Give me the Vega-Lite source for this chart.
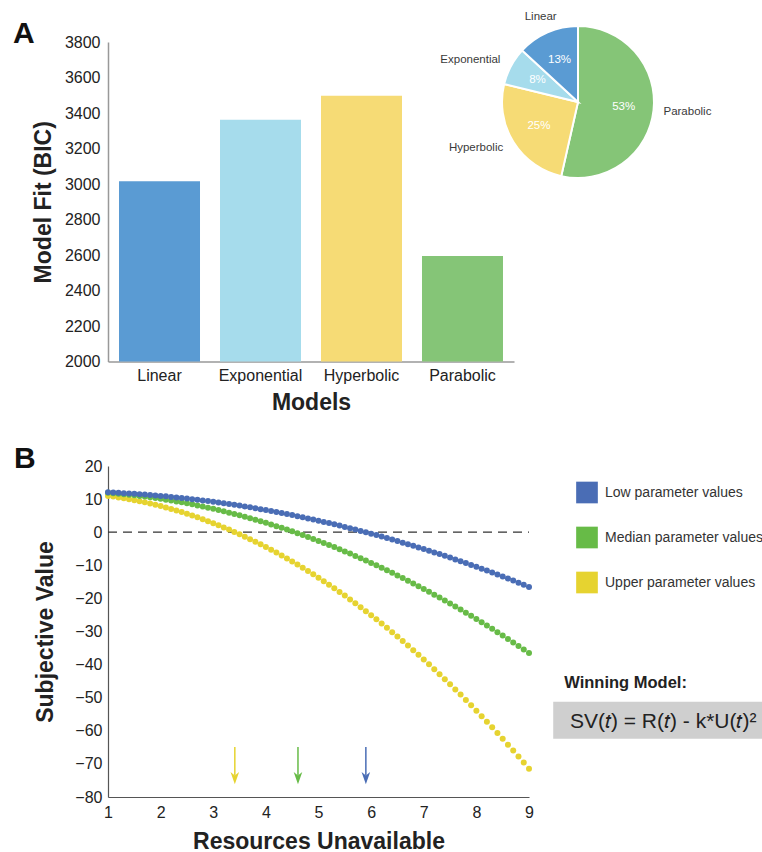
{
  "$schema": "https://vega.github.io/schema/vega-lite/v6.json",
  "background": "white",
  "padding": {"left": 13, "top": 10, "right": 0, "bottom": 0},
  "config": {
    "font": "Liberation Sans",
    "view": {"stroke": null},
    "axis": {"grid": false, "ticks": false, "labelFont": "Liberation Sans", "titleFont": "Liberation Sans", "labelColor": "#222", "titleColor": "#222", "labelFlush": false, "labelOverlap": false},
    "title": {"font": "Liberation Sans", "color": "#111"},
    "text": {"font": "Liberation Sans"}
  },
  "datasets": {
    "fits": [
      {"model": "Linear", "bic": 3015},
      {"model": "Exponential", "bic": 3362},
      {"model": "Hyperbolic", "bic": 3497},
      {"model": "Parabolic", "bic": 2595}
    ],
    "shares": [
      {"model": "Parabolic", "share": 0.53, "rank": 1},
      {"model": "Hyperbolic", "share": 0.25, "rank": 2},
      {"model": "Exponential", "share": 0.08, "rank": 3},
      {"model": "Linear", "share": 0.13, "rank": 4}
    ],
    "arrows": [
      {"s": "Upper", "t": 3.41},
      {"s": "Median", "t": 4.61},
      {"s": "Low", "t": 5.9}
    ],
    "curves": [
      {"s":"Upper","t":1,"v":10.97},{"s":"Upper","t":1.1,"v":10.75},{"s":"Upper","t":1.2,"v":10.52},{"s":"Upper","t":1.3,"v":10.26},{"s":"Upper","t":1.4,"v":9.98},{"s":"Upper","t":1.5,"v":9.68},{"s":"Upper","t":1.6,"v":9.36},{"s":"Upper","t":1.7,"v":9.02},{"s":"Upper","t":1.8,"v":8.66},{"s":"Upper","t":1.9,"v":8.28},
      {"s":"Upper","t":2,"v":7.88},{"s":"Upper","t":2.1,"v":7.46},{"s":"Upper","t":2.2,"v":7.01},{"s":"Upper","t":2.3,"v":6.55},{"s":"Upper","t":2.4,"v":6.07},{"s":"Upper","t":2.5,"v":5.56},{"s":"Upper","t":2.6,"v":5.04},{"s":"Upper","t":2.7,"v":4.49},{"s":"Upper","t":2.8,"v":3.92},{"s":"Upper","t":2.9,"v":3.34},
      {"s":"Upper","t":3,"v":2.73},{"s":"Upper","t":3.1,"v":2.1},{"s":"Upper","t":3.2,"v":1.45},{"s":"Upper","t":3.3,"v":0.78},{"s":"Upper","t":3.4,"v":0.09},{"s":"Upper","t":3.5,"v":-0.62},{"s":"Upper","t":3.6,"v":-1.35},{"s":"Upper","t":3.7,"v":-2.1},{"s":"Upper","t":3.8,"v":-2.87},{"s":"Upper","t":3.9,"v":-3.67},
      {"s":"Upper","t":4,"v":-4.48},{"s":"Upper","t":4.1,"v":-5.31},{"s":"Upper","t":4.2,"v":-6.17},{"s":"Upper","t":4.3,"v":-7.04},{"s":"Upper","t":4.4,"v":-7.94},{"s":"Upper","t":4.5,"v":-8.86},{"s":"Upper","t":4.6,"v":-9.79},{"s":"Upper","t":4.7,"v":-10.75},{"s":"Upper","t":4.8,"v":-11.73},{"s":"Upper","t":4.9,"v":-12.73},
      {"s":"Upper","t":5,"v":-13.75},{"s":"Upper","t":5.1,"v":-14.79},{"s":"Upper","t":5.2,"v":-15.85},{"s":"Upper","t":5.3,"v":-16.93},{"s":"Upper","t":5.4,"v":-18.03},{"s":"Upper","t":5.5,"v":-19.16},{"s":"Upper","t":5.6,"v":-20.3},{"s":"Upper","t":5.7,"v":-21.46},{"s":"Upper","t":5.8,"v":-22.65},{"s":"Upper","t":5.9,"v":-23.85},
      {"s":"Upper","t":6,"v":-25.08},{"s":"Upper","t":6.1,"v":-26.33},{"s":"Upper","t":6.2,"v":-27.59},{"s":"Upper","t":6.3,"v":-28.88},{"s":"Upper","t":6.4,"v":-30.19},{"s":"Upper","t":6.5,"v":-31.52},{"s":"Upper","t":6.6,"v":-32.87},{"s":"Upper","t":6.7,"v":-34.24},{"s":"Upper","t":6.8,"v":-35.63},{"s":"Upper","t":6.9,"v":-37.04},
      {"s":"Upper","t":7,"v":-38.47},{"s":"Upper","t":7.1,"v":-39.92},{"s":"Upper","t":7.2,"v":-41.4},{"s":"Upper","t":7.3,"v":-42.89},{"s":"Upper","t":7.4,"v":-44.4},{"s":"Upper","t":7.5,"v":-45.94},{"s":"Upper","t":7.6,"v":-47.49},{"s":"Upper","t":7.7,"v":-49.07},{"s":"Upper","t":7.8,"v":-50.67},{"s":"Upper","t":7.9,"v":-52.28},
      {"s":"Upper","t":8,"v":-53.92},{"s":"Upper","t":8.1,"v":-55.58},{"s":"Upper","t":8.2,"v":-57.26},{"s":"Upper","t":8.3,"v":-58.96},{"s":"Upper","t":8.4,"v":-60.68},{"s":"Upper","t":8.5,"v":-62.42},{"s":"Upper","t":8.6,"v":-64.18},{"s":"Upper","t":8.7,"v":-65.96},{"s":"Upper","t":8.8,"v":-67.76},{"s":"Upper","t":8.9,"v":-69.59},
      {"s":"Upper","t":9,"v":-71.43},
      {"s":"Median","t":1,"v":11.9},{"s":"Median","t":1.1,"v":11.77},{"s":"Median","t":1.2,"v":11.63},{"s":"Median","t":1.3,"v":11.48},{"s":"Median","t":1.4,"v":11.31},{"s":"Median","t":1.5,"v":11.14},{"s":"Median","t":1.6,"v":10.95},{"s":"Median","t":1.7,"v":10.75},{"s":"Median","t":1.8,"v":10.54},{"s":"Median","t":1.9,"v":10.32},
      {"s":"Median","t":2,"v":10.08},{"s":"Median","t":2.1,"v":9.83},{"s":"Median","t":2.2,"v":9.57},{"s":"Median","t":2.3,"v":9.3},{"s":"Median","t":2.4,"v":9.02},{"s":"Median","t":2.5,"v":8.72},{"s":"Median","t":2.6,"v":8.41},{"s":"Median","t":2.7,"v":8.09},{"s":"Median","t":2.8,"v":7.76},{"s":"Median","t":2.9,"v":7.41},
      {"s":"Median","t":3,"v":7.06},{"s":"Median","t":3.1,"v":6.69},{"s":"Median","t":3.2,"v":6.3},{"s":"Median","t":3.3,"v":5.91},{"s":"Median","t":3.4,"v":5.51},{"s":"Median","t":3.5,"v":5.09},{"s":"Median","t":3.6,"v":4.66},{"s":"Median","t":3.7,"v":4.22},{"s":"Median","t":3.8,"v":3.76},{"s":"Median","t":3.9,"v":3.3},
      {"s":"Median","t":4,"v":2.82},{"s":"Median","t":4.1,"v":2.33},{"s":"Median","t":4.2,"v":1.83},{"s":"Median","t":4.3,"v":1.31},{"s":"Median","t":4.4,"v":0.79},{"s":"Median","t":4.5,"v":0.25},{"s":"Median","t":4.6,"v":-0.3},{"s":"Median","t":4.7,"v":-0.86},{"s":"Median","t":4.8,"v":-1.44},{"s":"Median","t":4.9,"v":-2.03},
      {"s":"Median","t":5,"v":-2.63},{"s":"Median","t":5.1,"v":-3.24},{"s":"Median","t":5.2,"v":-3.86},{"s":"Median","t":5.3,"v":-4.49},{"s":"Median","t":5.4,"v":-5.14},{"s":"Median","t":5.5,"v":-5.8},{"s":"Median","t":5.6,"v":-6.47},{"s":"Median","t":5.7,"v":-7.16},{"s":"Median","t":5.8,"v":-7.85},{"s":"Median","t":5.9,"v":-8.56},
      {"s":"Median","t":6,"v":-9.28},{"s":"Median","t":6.1,"v":-10.01},{"s":"Median","t":6.2,"v":-10.76},{"s":"Median","t":6.3,"v":-11.51},{"s":"Median","t":6.4,"v":-12.28},{"s":"Median","t":6.5,"v":-13.06},{"s":"Median","t":6.6,"v":-13.85},{"s":"Median","t":6.7,"v":-14.66},{"s":"Median","t":6.8,"v":-15.48},{"s":"Median","t":6.9,"v":-16.3},
      {"s":"Median","t":7,"v":-17.15},{"s":"Median","t":7.1,"v":-18},{"s":"Median","t":7.2,"v":-18.86},{"s":"Median","t":7.3,"v":-19.74},{"s":"Median","t":7.4,"v":-20.63},{"s":"Median","t":7.5,"v":-21.53},{"s":"Median","t":7.6,"v":-22.44},{"s":"Median","t":7.7,"v":-23.37},{"s":"Median","t":7.8,"v":-24.31},{"s":"Median","t":7.9,"v":-25.26},
      {"s":"Median","t":8,"v":-26.22},{"s":"Median","t":8.1,"v":-27.19},{"s":"Median","t":8.2,"v":-28.18},{"s":"Median","t":8.3,"v":-29.18},{"s":"Median","t":8.4,"v":-30.19},{"s":"Median","t":8.5,"v":-31.21},{"s":"Median","t":8.6,"v":-32.25},{"s":"Median","t":8.7,"v":-33.29},{"s":"Median","t":8.8,"v":-34.35},{"s":"Median","t":8.9,"v":-35.42},
      {"s":"Median","t":9,"v":-36.51},
      {"s":"Low","t":1,"v":12.04},{"s":"Low","t":1.1,"v":11.97},{"s":"Low","t":1.2,"v":11.89},{"s":"Low","t":1.3,"v":11.8},{"s":"Low","t":1.4,"v":11.7},{"s":"Low","t":1.5,"v":11.6},{"s":"Low","t":1.6,"v":11.49},{"s":"Low","t":1.7,"v":11.37},{"s":"Low","t":1.8,"v":11.24},{"s":"Low","t":1.9,"v":11.11},
      {"s":"Low","t":2,"v":10.97},{"s":"Low","t":2.1,"v":10.83},{"s":"Low","t":2.2,"v":10.67},{"s":"Low","t":2.3,"v":10.51},{"s":"Low","t":2.4,"v":10.34},{"s":"Low","t":2.5,"v":10.17},{"s":"Low","t":2.6,"v":9.99},{"s":"Low","t":2.7,"v":9.8},{"s":"Low","t":2.8,"v":9.6},{"s":"Low","t":2.9,"v":9.4},
      {"s":"Low","t":3,"v":9.19},{"s":"Low","t":3.1,"v":8.97},{"s":"Low","t":3.2,"v":8.74},{"s":"Low","t":3.3,"v":8.51},{"s":"Low","t":3.4,"v":8.27},{"s":"Low","t":3.5,"v":8.03},{"s":"Low","t":3.6,"v":7.77},{"s":"Low","t":3.7,"v":7.51},{"s":"Low","t":3.8,"v":7.24},{"s":"Low","t":3.9,"v":6.97},
      {"s":"Low","t":4,"v":6.69},{"s":"Low","t":4.1,"v":6.4},{"s":"Low","t":4.2,"v":6.1},{"s":"Low","t":4.3,"v":5.8},{"s":"Low","t":4.4,"v":5.49},{"s":"Low","t":4.5,"v":5.17},{"s":"Low","t":4.6,"v":4.85},{"s":"Low","t":4.7,"v":4.51},{"s":"Low","t":4.8,"v":4.17},{"s":"Low","t":4.9,"v":3.83},
      {"s":"Low","t":5,"v":3.48},{"s":"Low","t":5.1,"v":3.11},{"s":"Low","t":5.2,"v":2.75},{"s":"Low","t":5.3,"v":2.37},{"s":"Low","t":5.4,"v":1.99},{"s":"Low","t":5.5,"v":1.6},{"s":"Low","t":5.6,"v":1.2},{"s":"Low","t":5.7,"v":0.8},{"s":"Low","t":5.8,"v":0.39},{"s":"Low","t":5.9,"v":-0.03},
      {"s":"Low","t":6,"v":-0.45},{"s":"Low","t":6.1,"v":-0.88},{"s":"Low","t":6.2,"v":-1.32},{"s":"Low","t":6.3,"v":-1.77},{"s":"Low","t":6.4,"v":-2.22},{"s":"Low","t":6.5,"v":-2.68},{"s":"Low","t":6.6,"v":-3.15},{"s":"Low","t":6.7,"v":-3.63},{"s":"Low","t":6.8,"v":-4.11},{"s":"Low","t":6.9,"v":-4.6},
      {"s":"Low","t":7,"v":-5.09},{"s":"Low","t":7.1,"v":-5.6},{"s":"Low","t":7.2,"v":-6.11},{"s":"Low","t":7.3,"v":-6.62},{"s":"Low","t":7.4,"v":-7.15},{"s":"Low","t":7.5,"v":-7.68},{"s":"Low","t":7.6,"v":-8.22},{"s":"Low","t":7.7,"v":-8.77},{"s":"Low","t":7.8,"v":-9.32},{"s":"Low","t":7.9,"v":-9.88},
      {"s":"Low","t":8,"v":-10.45},{"s":"Low","t":8.1,"v":-11.02},{"s":"Low","t":8.2,"v":-11.6},{"s":"Low","t":8.3,"v":-12.19},{"s":"Low","t":8.4,"v":-12.79},{"s":"Low","t":8.5,"v":-13.39},{"s":"Low","t":8.6,"v":-14},{"s":"Low","t":8.7,"v":-14.62},{"s":"Low","t":8.8,"v":-15.25},{"s":"Low","t":8.9,"v":-15.88},
      {"s":"Low","t":9,"v":-16.52}
    ]
  },
  "columns": 2,
  "bounds": "flush",
  "align": "all",
  "spacing": {"row": 93, "column": 0},
  "resolve": {"scale": {"color": "independent"}, "legend": {"color": "independent"}},
  "concat": [
    {
      "width": 406,
      "height": 319.5,
      "title": {"text": "A", "anchor": "start", "frame": "group", "dx": -95, "dy": 15, "offset": 0, "fontSize": 30, "fontWeight": "bold"},
      "data": {"name": "fits"},
      "mark": {"type": "bar"},
      "encoding": {
        "x": {
          "field": "model", "type": "nominal", "sort": null,
          "scale": {"paddingInner": 0.198, "paddingOuter": 0.109},
          "axis": {"title": "Models", "labelAngle": 0, "labelFontSize": 16, "labelPadding": 6, "titleFontSize": 23, "titleFontWeight": "bold", "titlePadding": 8, "domainColor": "#999", "domainWidth": 1.5}
        },
        "y": {
          "field": "bic", "type": "quantitative",
          "scale": {"domain": [2000, 3800], "nice": false, "zero": false},
          "axis": {"title": "Model Fit (BIC)", "values": [2000, 2200, 2400, 2600, 2800, 3000, 3200, 3400, 3600, 3800], "format": "d", "labelOverlap": false, "labelFontSize": 16, "labelPadding": 8, "titleFontSize": 23, "titleFontWeight": "bold", "titlePadding": 9, "domainColor": "#999", "domainWidth": 1.5}
        },
        "y2": {"datum": 2000},
        "color": {
          "field": "model", "type": "nominal",
          "scale": {"domain": ["Linear", "Exponential", "Hyperbolic", "Parabolic"], "range": ["#5a9bd3", "#a6dcec", "#f6db75", "#85c577"]},
          "legend": null
        }
      }
    },
    {
      "width": 98,
      "height": 120,
      "data": {"name": "shares"},
      "encoding": {
        "theta": {"field": "share", "type": "quantitative", "stack": true},
        "order": {"field": "rank", "type": "quantitative"}
      },
      "layer": [
        {
          "mark": {"type": "arc", "outerRadius": 76, "stroke": "white", "strokeWidth": 2},
          "encoding": {
            "color": {
              "field": "model", "type": "nominal",
              "scale": {"domain": ["Linear", "Exponential", "Hyperbolic", "Parabolic"], "range": ["#5a9bd3", "#a6dcec", "#f6db75", "#85c577"]},
              "legend": null
            }
          }
        },
        {
          "mark": {"type": "text", "radius": 46, "fontSize": 11.5, "baseline": "middle"},
          "encoding": {
            "text": {"field": "share", "type": "quantitative", "format": ".0%"},
            "color": {"value": "white"}
          }
        },
        {
          "mark": {"type": "text", "radius": 86, "align": "left", "fontSize": 11.5, "baseline": "middle"},
          "encoding": {
            "text": {"condition": {"test": "datum.model === 'Parabolic'", "field": "model", "type": "nominal"}, "value": ""},
            "color": {"value": "#3a3a3a"}
          }
        },
        {
          "mark": {"type": "text", "radius": 88, "align": "right", "fontSize": 11.5, "baseline": "middle"},
          "encoding": {
            "text": {"condition": {"test": "datum.model === 'Hyperbolic' || datum.model === 'Exponential'", "field": "model", "type": "nominal"}, "value": ""},
            "color": {"value": "#3a3a3a"}
          }
        },
        {
          "mark": {"type": "text", "radius": 93, "align": "center", "fontSize": 11.5, "baseline": "middle"},
          "encoding": {
            "text": {"condition": {"test": "datum.model === 'Linear'", "field": "model", "type": "nominal"}, "value": ""},
            "color": {"value": "#3a3a3a"}
          }
        }
      ]
    },
    {
      "width": 421,
      "height": 331,
      "title": {"text": "B", "anchor": "start", "frame": "group", "dx": -94, "dy": 16, "offset": 0, "fontSize": 30, "fontWeight": "bold"},
      "encoding": {
        "y": {
          "type": "quantitative",
          "scale": {"domain": [-80, 20], "nice": false, "zero": false},
          "axis": {"title": "Subjective Value", "values": [-80, -70, -60, -50, -40, -30, -20, -10, 0, 10, 20], "labelOverlap": false, "labelFontSize": 16, "labelPadding": 6, "titleFontSize": 23, "titleFontWeight": "bold", "titlePadding": 17, "domainColor": "#555", "domainWidth": 1.2}
        }
      },
      "layer": [
        {
          "data": {"values": [{}]},
          "mark": {"type": "rule", "strokeDash": [9, 6], "color": "#333", "strokeWidth": 1.3},
          "encoding": {
            "x": {"datum": 1, "type": "quantitative"},
            "x2": {"datum": 9},
            "y": {"datum": 0, "type": "quantitative"}
          }
        },
        {
          "data": {"name": "curves"},
          "mark": {"type": "circle", "size": 36, "opacity": 1},
          "encoding": {
            "x": {
              "field": "t", "type": "quantitative",
              "scale": {"domain": [1, 9], "nice": false, "zero": false},
              "axis": {"title": "Resources Unavailable", "values": [1, 2, 3, 4, 5, 6, 7, 8, 9], "labelFontSize": 16, "labelPadding": 7, "titleFontSize": 23, "titleFontWeight": "bold", "titlePadding": 10, "domainColor": "#555", "domainWidth": 1.2}
            },
            "y": {"field": "v", "type": "quantitative"},
            "color": {
              "field": "s", "type": "nominal",
              "scale": {"domain": ["Low", "Median", "Upper"], "range": ["#4a6db5", "#67bb47", "#e6d330"]},
              "legend": {
                "orient": "none", "legendX": 468, "legendY": 15.5, "title": null,
                "symbolType": "square", "symbolSize": 470, "symbolStrokeWidth": 0, "symbolOpacity": 1,
                "labelFontSize": 14, "labelColor": "#333", "labelOffset": 7, "rowPadding": 23, "padding": 0, "labelLimit": 300,
                "labelExpr": "datum.label + ' parameter values'"
              }
            }
          }
        },
        {
          "data": {"name": "arrows"},
          "mark": {"type": "rule", "strokeWidth": 1.5},
          "encoding": {
            "x": {"field": "t", "type": "quantitative"},
            "y": {"datum": -64.9},
            "y2": {"datum": -73.5},
            "color": {"field": "s", "type": "nominal"}
          }
        },
        {
          "data": {"name": "arrows"},
          "mark": {"type": "point", "shape": "M0,1L-0.7,-1L0,-0.45L0.7,-1Z", "filled": true, "size": 150, "opacity": 1},
          "encoding": {
            "x": {"field": "t", "type": "quantitative"},
            "y": {"datum": -74.3},
            "color": {"field": "s", "type": "nominal"}
          }
        },
        {
          "data": {"values": [{}]},
          "mark": {"type": "rect", "color": "#cfcfcf", "clip": false},
          "encoding": {
            "x": {"datum": 9.46},
            "x2": {"datum": 13.45},
            "y": {"datum": -51.2},
            "y2": {"datum": -62.4}
          }
        },
        {
          "data": {"values": [{}]},
          "mark": {"type": "text", "align": "left", "baseline": "alphabetic", "fontSize": 16.5, "fontWeight": "bold", "color": "#222"},
          "encoding": {
            "x": {"datum": 9.67},
            "y": {"datum": -47.0},
            "text": {"value": "Winning Model:"}
          }
        },
        {
          "data": {"values": [{}]},
          "mark": {"type": "text", "align": "center", "baseline": "alphabetic", "fontSize": 21, "color": "#222"},
          "encoding": {
            "x": {"datum": 11.55},
            "y": {"datum": -59.2},
            "text": {"value": "SV(𝑡) = R(𝑡) - k*U(𝑡)²"}
          }
        }
      ]
    }
  ]
}
